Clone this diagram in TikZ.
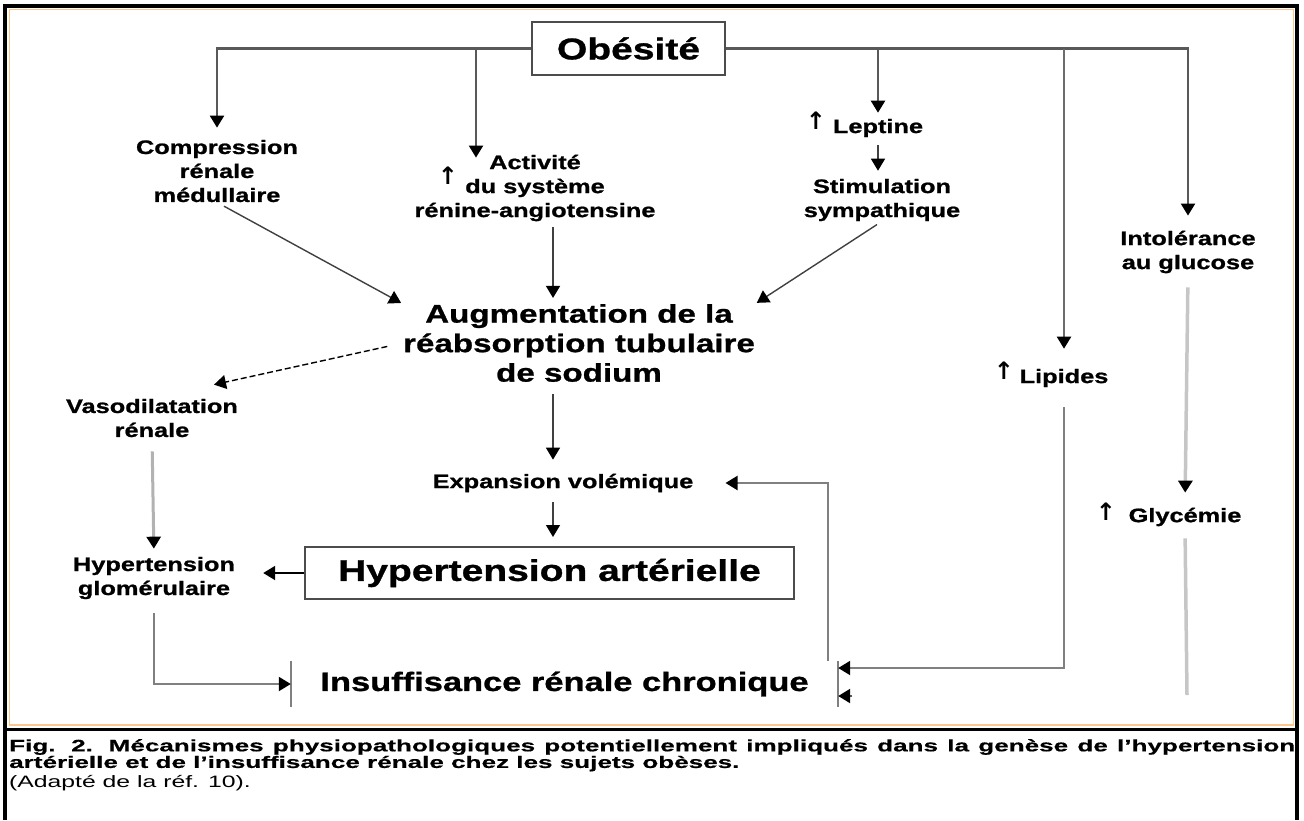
\documentclass[tikz,border=0pt]{standalone}
\usepackage{fontspec}
\setmainfont{Liberation Sans}
\newfontfamily\dfont{Liberation Sans}[FakeStretch=1.3,FakeBold=1]
\newfontfamily\lfont{Liberation Sans}[FakeStretch=1.58,FakeBold=0.6]
\newfontfamily\sfont{Liberation Sans}[FakeStretch=1.5]
\newfontfamily\flfont{DejaVu Sans}
\usetikzlibrary{arrows.meta,positioning}

\begin{document}
\begin{tikzpicture}[x=1pt,y=-1pt,
  lbl/.style={font=\dfont\bfseries\fontsize{19.5}{24}\selectfont,align=center,inner sep=0pt},
  gros/.style={font=\dfont\bfseries\fontsize{25.5}{29.5}\selectfont,align=center,inner sep=0pt},
  cadre/.style={draw=gray!60!black,line width=2pt,font=\dfont\bfseries\fontsize{30}{34}\selectfont,inner sep=0pt},
  hausse/.style={font=\flfont\bfseries\fontsize{24}{24}\selectfont,inner sep=0pt},
  fl/.style={-{Triangle[width=14pt,length=12pt,color=black]}},
  trait/.style={draw=gray!70!black,line width=2.2pt},
  fin/.style={draw=black!75,line width=1.4pt},
  pale/.style={draw=gray!45,line width=3.5pt}]
\useasboundingbox (0,0) rectangle (1304,820);
% cadre de la figure
\draw[orange!45,line width=1.5pt] (9.5,9.5) rectangle (1293.5,725);
\draw[line width=4pt] (5,820) -- (5,6) -- (1297,6) -- (1297,820);
\draw[line width=3pt] (5,729.5) -- (1297,729.5);

\node[cadre,minimum width=193pt,minimum height=53pt] (obes) at (628.5,48.5) {Obésité};
\node[lbl] (comp) at (217,171) {Compression\\rénale\\médullaire};
\node[lbl] (act) at (535,188) {Activité\\du système\\rénine-angiotensine};
\node[hausse] (actup) at (448,176) {↑};
\node[lbl] (lept) at (878,128) {Leptine};
\node[hausse] (leptup) at (816,121) {↑};
\node[lbl] (stim) at (882,200) {Stimulation\\sympathique};
\node[lbl] (intol) at (1188,252) {Intolérance\\au glucose};
\node[gros] (aug) at (579,343) {Augmentation de la\\réabsorption tubulaire\\de sodium};
\node[lbl] (vaso) at (152,418) {Vasodilatation\\rénale};
\node[lbl] (lip) at (1064,378) {Lipides};
\node[hausse] (lipup) at (1004,371) {↑};
\node[lbl] (exp) at (563,483) {Expansion volémique};
\node[lbl] (glyc) at (1185,517) {Glycémie};
\node[hausse] (glycup) at (1106,512) {↑};
\node[cadre,minimum width=489pt,minimum height=52pt] (ha) at (549.5,573) {Hypertension artérielle};
\node[lbl] (hg) at (154,578) {Hypertension\\glomérulaire};
\node[lbl,font=\dfont\bfseries\fontsize{26.5}{30}\selectfont,minimum width=547pt,minimum height=46pt] (irc) at (564.5,684) {Insuffisance rénale chronique};
\draw[draw=gray,line width=1.5pt] (irc.north west) -- (irc.south west) (irc.north east) -- (irc.south east);

\coordinate (jact) at (476,0);
\coordinate (fond) at (1187,695);
\coordinate (bout) at (852,696);

\draw[trait,fl,shorten >=12pt] (obes.west) -| (comp.north);
\draw[trait,fl,shorten >=15pt] (obes.east) -| (intol.north);
\draw[trait,fl,shorten >=-3pt] (obes.west -| jact) -- (jact |- act.north);
\draw[trait,fl,shorten >=6pt] (obes.east -| lept.north) -- (lept.north);
\draw[trait,draw=gray!85!black,line width=2pt,fl,shorten >=20pt] (obes.east -| lip.north) -- (lip.north);
\path[every edge/.append style={fin,fl}]
  (lept.south) edge[shorten <=8pt,shorten >=8pt] (lept.south |- stim.north)
  (comp.south) edge[shorten <=8pt,shorten >=2pt] (aug.north west)
  (stim.south) edge[shorten <=6pt,shorten >=2pt] (aug.north east)
  ([xshift=18pt]act.south) edge[shorten <=6pt,shorten >=6pt] ([xshift=-26pt]aug.north)
  ([xshift=-26pt]aug.south) edge[shorten <=12pt,shorten >=14pt] ([xshift=-26pt]aug.south |- exp.north)
  ([xshift=-10pt]exp.south) edge[shorten <=10pt,shorten >=9pt] ([xshift=-10pt]exp.south |- ha.north)
  (ha.west) edge[draw=black,line width=2pt,shorten >=28pt] (ha.west -| hg.east);
\draw[fin,draw=black,line width=1.4pt,fl,dashed,dash pattern=on 6pt off 3pt,shorten <=16pt] (aug.west) -- ([xshift=62pt,yshift=14pt]vaso.north);
\draw[pale,draw=gray!60,line width=3pt,fl,shorten <=14pt,shorten >=8pt] (vaso.south) -- (hg.north);
\draw[pale,fl,shorten <=14pt,shorten >=15pt] (intol.south) -- (glyc.north);
\draw[pale,shorten <=12pt] (glyc.south) -- (fond);
\draw[trait,draw=gray,line width=2pt,fl,shorten <=14pt] (hg.south) |- (irc.west);
\draw[trait,draw=gray,line width=2pt,fl,shorten >=32pt] ([xshift=-10pt]irc.north east) |- (exp.east);
\draw[trait,draw=gray,line width=2pt,fl,shorten <=20pt] (lip.south) |- ([yshift=16pt]irc.east);
\draw[trait,fl] (bout) -- ([yshift=-12pt]irc.east);

\node[anchor=north west,align=left,inner sep=0pt,font=\lfont\bfseries\fontsize{16.5}{13.5}\selectfont] (leg) at (9,739)
  {\makebox[1286pt][s]{Fig. 2. Mécanismes physiopathologiques potentiellement impliqués dans la genèse de l’hypertension}\\artérielle et de l’insuffisance rénale chez les sujets obèses.};
\node[anchor=north west,inner sep=0pt,font=\sfont\fontsize{16.5}{20}\selectfont] (src) at (9,775) {(Adapté de la réf. 10).};
\end{tikzpicture}
\end{document}
